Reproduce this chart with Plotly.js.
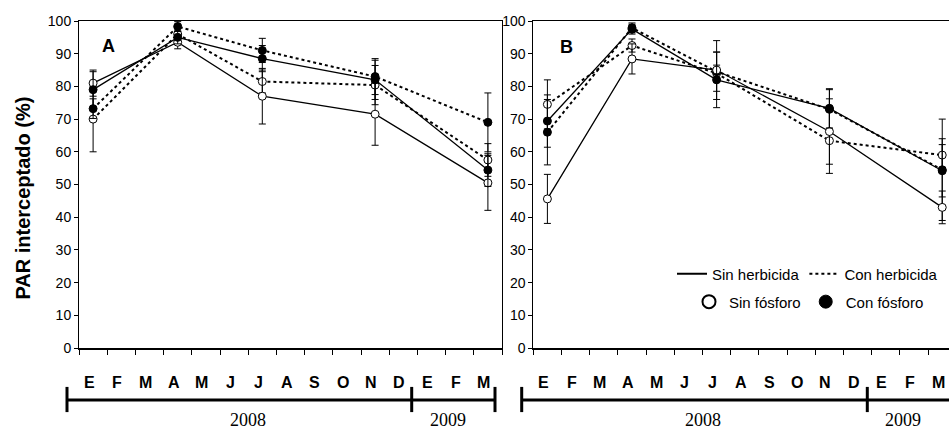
<!DOCTYPE html>
<html>
<head>
<meta charset="utf-8">
<script src="https://cdn.plot.ly/plotly-3.0.1.min.js"></script>
<style>html,body{margin:0;padding:0;background:#fff;}#chart{width:949px;height:429px;}</style>
</head>
<body>
<div id="chart"></div>
<script>
// ---- data ----
const sampleMonths = [0.5, 3.5, 6.5, 10.5, 14.5];   // E, A, J, N (2008), M (2009)
const monthLetters = ['E','F','M','A','M','J','J','A','S','O','N','D','E','F','M'];
const yearLabels = ['2008', '2009'];
const yearCenters = [6, 13.1];
const yTicks = [0,10,20,30,40,50,60,70,80,90,100];

// Panel A
const A_sinHerb_sinP     = [81, 93.5, 77, 71.5, 50.5];
const A_sinHerb_sinP_err = [4, 2, 8.5, 9.5, 8.4];
const A_sinHerb_conP     = [79, 95, 88.5, 82, 54.4];
const A_sinHerb_conP_err = [5.5, 2, 4, 6, 5];
const A_conHerb_sinP     = [70, 96, 81.5, 80.4, 57.5];
const A_conHerb_sinP_err = [10, 2, 3.5, 6, 5];
const A_conHerb_conP     = [73.2, 98.3, 91, 83, 69];
const A_conHerb_conP_err = [3, 1.5, 3.7, 5.5, 9];

// Panel B
const B_sinHerb_sinP     = [45.6, 88.4, 85, 66.2, 43];
const B_sinHerb_sinP_err = [7.5, 4.6, 9, 10, 5];
const B_sinHerb_conP     = [69.4, 97.5, 82, 73.3, 54.2];
const B_sinHerb_conP_err = [8, 1.5, 8.5, 6, 8];
const B_conHerb_sinP     = [74.5, 92.5, 84, 63.4, 59];
const B_conHerb_sinP_err = [7.5, 2, 2.5, 10, 5];
const B_conHerb_conP     = [66, 97.9, 84.5, 73, 54.5];
const B_conHerb_conP_err = [10, 1.5, 6, 6, 15.5];

// ---- styles ----
const SANS = "'Liberation Sans', Arial, sans-serif";
const SERIF = "'Liberation Serif', 'Times New Roman', serif";

function series(y, err, dotted, filled, xa, ya) {
  return {
    x: sampleMonths, y: y, xaxis: xa, yaxis: ya,
    type: 'scatter', mode: 'lines+markers', showlegend: false, cliponaxis: false,
    line: {color: '#000', width: dotted ? 2 : 1.3, dash: dotted ? 'dot' : 'solid'},
    marker: {symbol: 'circle', size: 8, color: filled ? '#000' : '#fff', line: {color: '#000', width: 1}},
    error_y: {type: 'data', array: err, visible: true, color: '#000', thickness: 1, width: 3.5}
  };
}

const traces = [
  series(A_conHerb_sinP, A_conHerb_sinP_err, true, false, 'x', 'y'),
  series(A_conHerb_conP, A_conHerb_conP_err, true, true, 'x', 'y'),
  series(A_sinHerb_sinP, A_sinHerb_sinP_err, false, false, 'x', 'y'),
  series(A_sinHerb_conP, A_sinHerb_conP_err, false, true, 'x', 'y'),
  series(B_conHerb_sinP, B_conHerb_sinP_err, true, false, 'x2', 'y2'),
  series(B_conHerb_conP, B_conHerb_conP_err, true, true, 'x2', 'y2'),
  series(B_sinHerb_sinP, B_sinHerb_sinP_err, false, false, 'x2', 'y2'),
  series(B_sinHerb_conP, B_sinHerb_conP_err, false, true, 'x2', 'y2'),
  // legend entries
  {x:[null], y:[null], xaxis:'x2', yaxis:'y2', type:'scatter', mode:'lines', name:'Sin herbicida',
   line:{color:'#000', width:2}, legend:'legend'},
  {x:[null], y:[null], xaxis:'x2', yaxis:'y2', type:'scatter', mode:'lines', name:'Con herbicida',
   line:{color:'#000', width:2, dash:'dot'}, legend:'legend'},
  {x:[null], y:[null], xaxis:'x2', yaxis:'y2', type:'scatter', mode:'markers', name:'Sin fósforo',
   marker:{symbol:'circle', size:13, color:'#fff', line:{color:'#000', width:2}}, legend:'legend2'},
  {x:[null], y:[null], xaxis:'x2', yaxis:'y2', type:'scatter', mode:'markers', name:'Con fósforo',
   marker:{symbol:'circle', size:13, color:'#000', line:{color:'#000', width:1}}, legend:'legend2'}
];

const W = 949;
const axX = {
  showgrid:false, zeroline:false, showline:true, linecolor:'#000', linewidth:1.5, mirror:true,
  ticks:'outside', ticklen:5, tickwidth:1, tickcolor:'#000', tick0:0, dtick:1, showticklabels:false,
  fixedrange:true
};
const axY = {
  range:[0,100], tickvals:yTicks, showgrid:false, zeroline:false, showline:true, linecolor:'#000', linewidth:1,
  ticks:'outside', ticklen:4, tickwidth:1, tickcolor:'#000',
  tickfont:{family:SANS, size:14, color:'#000'}, automargin:false
};

const annotations = [];
['x','x2'].forEach(function(xr){
  monthLetters.forEach(function(m, i){
    annotations.push({xref:xr, yref:'paper', x:i+0.5, y:-0.104, xshift:-4, text:'<b>'+m+'</b>', showarrow:false,
      font:{family:SANS, size:16, color:'#000'}, xanchor:'center', yanchor:'middle'});
  });
  yearLabels.forEach(function(yl, i){
    annotations.push({xref:xr, yref:'paper', x:yearCenters[i], y:-0.22, text:yl, showarrow:false,
      font:{family:SERIF, size:18, color:'#000'}, xanchor:'center', yanchor:'middle'});
  });
});
annotations.push({xref:'x domain', yref:'y domain', x:0.069, y:0.924, text:'<b>A</b>', showarrow:false,
  xanchor:'center', yanchor:'middle', font:{family:SANS, size:18, color:'#000'}});
annotations.push({xref:'x2 domain', yref:'y2 domain', x:0.079, y:0.92, text:'<b>B</b>', showarrow:false,
  xanchor:'center', yanchor:'middle', font:{family:SANS, size:18, color:'#000'}});
annotations.push({xref:'paper', yref:'paper', x:23/W, y:0.457, text:'<b>PAR interceptado (%)</b>', textangle:-90,
  showarrow:false, font:{family:SANS, size:20, color:'#000'}, xanchor:'center', yanchor:'middle'});

function bar(x0, x1){ return {type:'line', xref:'paper', yref:'paper', x0:x0, x1:x1, y0:-0.159, y1:-0.159, line:{color:'#000', width:3}}; }
function cap(x){ return {type:'line', xref:'paper', yref:'paper', x0:x, x1:x, y0:-0.119, y1:-0.196, line:{color:'#000', width:3}}; }
const shapes = [
  bar(67/W, 495/W), cap(67/W), cap(411.7/W), cap(495/W),
  bar(521.7/W, 1), cap(521.7/W), cap(867.3/W)
];

const layout = {
  width: W, height: 429,
  margin: {l:0, r:0, t:21, b:81, pad:0},
  paper_bgcolor:'#fff', plot_bgcolor:'#fff',
  xaxis: Object.assign({}, axX, {domain:[79/W, 502/W], range:[0,15], anchor:'y'}),
  yaxis: Object.assign({}, axY, {domain:[0,1], anchor:'x', mirror:true}),
  xaxis2: Object.assign({}, axX, {domain:[533.3/W, 1], range:[0,14.74], anchor:'y2'}),
  yaxis2: Object.assign({}, axY, {domain:[0,1], anchor:'x2', mirror:false}),
  legend: {orientation:'h', x:672/W, y:0.226, xanchor:'left', yanchor:'middle', bgcolor:'rgba(0,0,0,0)',
    font:{family:SANS, size:15, color:'#000'}, itemwidth:30, traceorder:'normal'},
  legend2: {orientation:'h', x:689/W, y:0.141, xanchor:'left', yanchor:'middle', bgcolor:'rgba(0,0,0,0)',
    font:{family:SANS, size:15, color:'#000'}, itemwidth:30, traceorder:'normal'},
  annotations: annotations,
  shapes: shapes,
  showlegend: true
};

Plotly.newPlot('chart', traces, layout, {displayModeBar:false, staticPlot:true});
</script>
</body>
</html>
